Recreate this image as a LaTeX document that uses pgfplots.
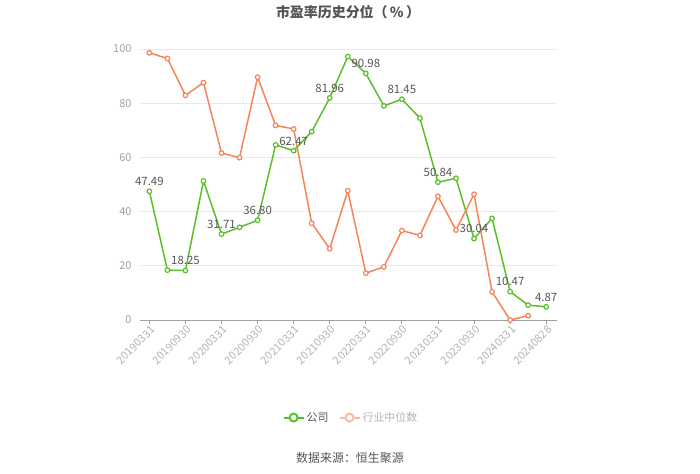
\documentclass[border=0pt]{standalone}
\usepackage{pgfplots}
\pgfplotsset{compat=1.18}
\usepackage{fontspec}
\setmainfont{Noto Sans CJK SC}
\definecolor{cgreen}{HTML}{5CBF2A}
\definecolor{corange}{HTML}{F5845A}
\definecolor{corangepale}{HTML}{F7BCA6}
\definecolor{gridc}{HTML}{E8E8E8}
\definecolor{tickc}{HTML}{A0A0A0}
\definecolor{labc}{HTML}{555555}
\begin{document}
\begin{tikzpicture}
\path[use as bounding box] (0bp,0bp) rectangle (700bp,474bp);
\node[font=\fontsize{14}{16}\selectfont\bfseries, text=labc] at (348bp,462bp) {市盈率历史分位（\,\%\,）};
\node[font=\fontsize{12}{14}\selectfont, text=labc] at (350bp,16bp) {数据来源：恒生聚源};
\begin{axis}[
  at={(140bp,154bp)}, anchor=south west,
  scale only axis, width=417bp, height=271bp,
  xmin=-0.52, xmax=22.6, ymin=0, ymax=100,
  axis x line*=bottom, axis y line*=left,
  y axis line style={draw=none},
  x axis line style={draw=tickc, line width=0.8bp},
  ytick={0,20,40,60,80,100},
  ytick style={draw=none},
  xtick={0,2,...,22},
  xticklabels={20190331,20190930,20200331,20200930,20210331,20210930,20220331,20220930,20230331,20230930,20240331,20240828},
  xtick style={draw=tickc, line width=0.8bp},
  tick align=outside, major tick length=4bp,
  ymajorgrids, grid style={draw=gridc, line width=0.8bp},
  /pgf/number format/assume math mode=true,
  yticklabel style={font=\fontsize{11}{12}\selectfont, text=tickc, xshift=-1bp},
  xticklabel style={font=\fontsize{11}{12}\selectfont, text=tickc!80, rotate=45, anchor=north east, inner sep=1bp, xshift=1bp},
  legend style={at={(0.506,-0.36)}, anchor=center, draw=none, fill=none, legend columns=2,
    font=\fontsize{11}{12}\selectfont, /tikz/every even column/.append style={column sep=8bp}},
  legend image code/.code={
    \draw[mark repeat=2, mark phase=2] plot coordinates {(0bp,0bp) (10bp,0bp) (20bp,0bp)};},
  clip=false,
]
\addplot[cgreen, line width=1.5bp, mark=*, mark size=2.3bp, mark options={fill=white, draw=cgreen, line width=1.2bp}, forget plot] coordinates {
(0,47.49) (1,18.4) (2,18.25) (3,51.3) (4,31.71) (5,34.2) (6,36.80) (7,64.6) (8,62.47) (9,69.5) (10,81.96) (11,97.2) (12,90.98) (13,79.0) (14,81.45) (15,74.5) (16,50.84) (17,52.3) (18,30.04) (19,37.5) (20,10.47) (21,5.5) (22,4.87)
};
\addplot[corange, line width=1.5bp, mark=*, mark size=2.3bp, mark options={fill=white, draw=corange, line width=1.2bp}, forget plot] coordinates {
(0,98.6) (1,96.5) (2,82.9) (3,87.6) (4,61.6) (5,59.9) (6,89.6) (7,71.8) (8,70.5) (9,35.7) (10,26.3) (11,47.7) (12,17.3) (13,19.6) (14,33.0) (15,31.2) (16,45.6) (17,33.2) (18,46.4) (19,10.4) (20,0.0) (21,1.6)
};
\addplot[draw=none, mark=none, forget plot, point meta=explicit symbolic,
  nodes near coords, nodes near coords style={font=\fontsize{11.5}{12}\selectfont, text=labc, anchor=south, yshift=2bp}] coordinates {
(0,47.49) [47.49] (2,18.25) [18.25] (4,31.71) [31.71] (6,36.80) [36.80] (8,62.47) [62.47] (10,81.96) [81.96] (12,90.98) [90.98] (14,81.45) [81.45] (16,50.84) [50.84] (18,30.04) [30.04] (20,10.47) [10.47] (22,4.87) [4.87]
};
\addlegendimage{cgreen, line width=2bp, mark=*, mark size=4bp, mark options={fill=white, draw=cgreen, line width=2bp}}
\addlegendentry{\textcolor{labc}{公司}}
\addlegendimage{corangepale, line width=2bp, mark=*, mark size=4bp, mark options={fill=white, draw=corangepale, line width=2bp}}
\addlegendentry{\textcolor{tickc!80}{行业中位数}}
\end{axis}
\end{tikzpicture}
\end{document}
